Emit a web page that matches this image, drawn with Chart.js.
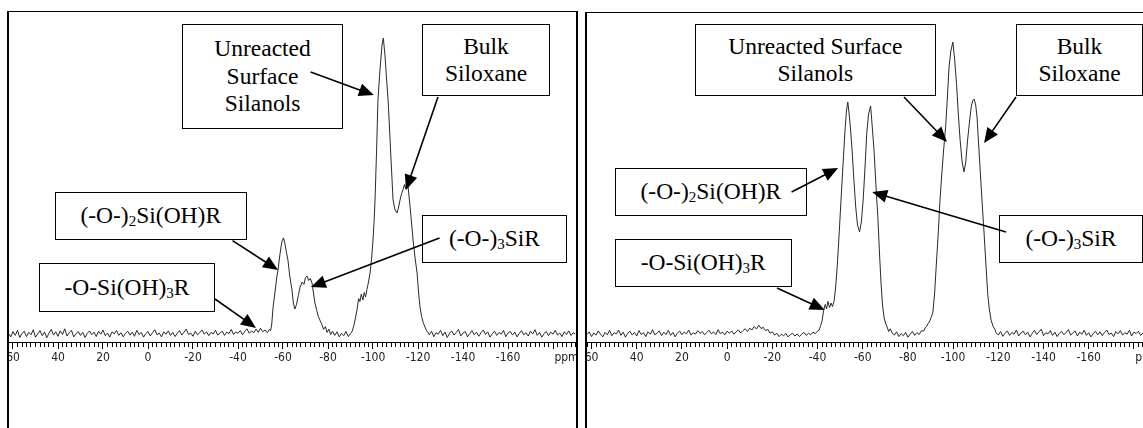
<!DOCTYPE html>
<html><head><meta charset="utf-8">
<script src="https://cdn.jsdelivr.net/npm/chart.js@4.4.1/dist/chart.umd.min.js"></script>
<style>
html,body{margin:0;padding:0;background:#fff;width:1143px;height:428px;overflow:hidden;position:relative}
canvas{position:absolute;top:0}
.frame{position:absolute;box-sizing:border-box;border:0 solid #000;pointer-events:none;z-index:2}
.box{position:absolute;box-sizing:border-box;border:1.5px solid #000;background:#fff;font-family:"Liberation Serif","Tinos","DejaVu Serif","Noto Serif","Times New Roman",Times,serif;font-size:23.5px;line-height:27.5px;color:#000;display:flex;align-items:center;justify-content:center;text-align:center;z-index:3;white-space:nowrap}
.box span{display:block}
.box sub{font-size:0.64em;vertical-align:-0.22em;line-height:0}
#arrows{position:absolute;left:0;top:0;z-index:4}
</style></head><body>
<canvas id="cL" width="590" height="428" style="left:0"></canvas>
<canvas id="cR" width="600" height="428" style="left:575px"></canvas>
<div class="frame" style="left:7px;top:11px;width:571px;height:440px;border-left-width:2px;border-right-width:2px;border-top-width:1px"></div>
<div class="frame" style="left:585px;top:12px;width:600px;height:440px;border-left-width:2px;border-top-width:1px"></div>

<div class="box" style="left:182px;top:24px;width:161px;height:105px"><span>Unreacted<br>Surface<br>Silanols</span></div>
<div class="box" style="left:422px;top:24px;width:128px;height:72px"><span>Bulk<br>Siloxane</span></div>
<div class="box" style="left:54.5px;top:192px;width:192.5px;height:48px"><span>(-O-)<sub>2</sub>Si(OH)R</span></div>
<div class="box" style="left:422px;top:215px;width:145px;height:48px"><span>(-O-)<sub>3</sub>SiR</span></div>
<div class="box" style="left:39px;top:263px;width:176px;height:49px"><span>-O-Si(OH)<sub>3</sub>R</span></div>

<div class="box" style="left:694.5px;top:24px;width:241.5px;height:72px"><span>Unreacted Surface<br>Silanols</span></div>
<div class="box" style="left:1016px;top:24px;width:127px;height:72px"><span>Bulk<br>Siloxane</span></div>
<div class="box" style="left:614.7px;top:168px;width:192.3px;height:48px"><span>(-O-)<sub>2</sub>Si(OH)R</span></div>
<div class="box" style="left:999px;top:215px;width:144px;height:48px"><span>(-O-)<sub>3</sub>SiR</span></div>
<div class="box" style="left:614.7px;top:239px;width:177px;height:48px"><span>-O-Si(OH)<sub>3</sub>R</span></div>

<svg id="arrows" width="1143" height="428"></svg>

<script>
// ---- Left spectrum: chemical shift (ppm) and intensity (a.u.) ----
const leftShift = [
62,61,60,59,58,57,56,55,54,53,
52,51,50,49,48,47,46,45,44,43,
42,41,40,39,38,37,36,35,34,33,
32,31,30,29,28,27,26,25,24,23,
22,21,20,19,18,17,16,15,14,13,
12,11,10,9,8,7,6,5,4,3,
2,1,0,-1,-2,-3,-4,-5,-6,-7,
-8,-9,-10,-11,-12,-13,-14,-15,-16,-17,
-18,-19,-20,-21,-22,-23,-24,-25,-26,-27,
-28,-29,-30,-31,-32,-33,-34,-35,-36,-37,
-38,-39,-40,-41,-42,-43,-44,-45,-46,-47,
-48,-49,-50,-51,-52,-53,-54,
-54.5,-55.0,-55.6,-56.5,-57.3,-57.8,-58.6,-59.5,-60.2,-60.8,
-61.5,-62.2,-63.0,-64.0,-64.6,-65.3,-66.0,-66.8,-67.6,-68.5,
-69.3,-70.0,-70.7,-71.4,-72.1,-72.9,-73.6,-74.2,-75.0,-75.7,
-76.4,-77.2,-78.0,-78.8,-79.6,-80.4,-81.2,-82,-83,-84,
-85,-86,-87,-88,-89,-90,-90.7,-91.5,-92.2,-92.9,
-93.6,-94.2,-94.8,-95.5,-96.1,-96.7,-97.3,-98.0,-98.7,-99.4,
-100.0,-100.5,-100.9,-101.6,-102.2,-103.1,-104.0,-104.6,-105.3,-106.0,
-106.7,-107.3,-107.8,-108.4,-108.9,-109.8,-110.7,-111.4,-112.0,-112.7,
-113.3,-114.0,-114.5,-115.0,-115.6,-116.4,-117.1,-117.8,-118.7,-119.6,
-120.3,-120.9,-121.6,-122.3,-123.1,-123.8,-124.4,
-125,-126,-127,-128,-129,-130,-131,-132,-133,-134,
-135,-136,-137,-138,-139,-140,-141,-142,-143,-144,
-145,-146,-147,-148,-149,-150,-151,-152,-153,-154,
-155,-156,-157,-158,-159,-160,-161,-162,-163,-164,
-165,-166,-167,-168,-169,-170,-171,-172,-173,-174,
-175,-176,-177,-178,-179,-180,-181,-182,-183,-184,
-185,-186,-187,-188,-189,-190];
const leftIntensity = [
0.8,-0.3,1.5,0.2,1.9,-0.5,0.9,1.6,-0.2,1.2,
0.4,2.1,-0.4,0.7,1.8,0.1,1.3,-0.6,1.0,2.2,
0.3,1.4,-0.1,1.7,0.5,2.4,0.0,1.1,1.9,-0.3,
0.8,1.5,0.2,1.2,-0.5,0.9,1.7,0.4,1.3,-0.2,
1.6,0.6,2.0,0.1,1.0,-0.4,1.4,0.7,1.8,0.2,
1.1,-0.3,0.9,1.6,0.3,1.3,-0.1,1.9,0.5,1.2,
-0.4,0.8,1.5,0.0,1.1,2.1,0.4,1.0,-0.3,1.4,
0.6,1.7,0.2,1.2,-0.2,0.9,1.8,0.3,1.3,2.3,
0.5,1.0,-0.1,1.6,0.4,1.1,2.0,0.6,1.4,0.1,
1.2,0.7,1.9,0.3,1.0,1.6,0.2,1.3,0.8,2.2,
0.5,1.4,0.9,1.8,0.4,1.5,2.4,0.9,1.7,1.1,
2.3,1.2,2.6,1.4,2.0,1.1,2.2,
1.8,4.0,9.7,15,20,22,27,31.5,32.7,31,
28,25.3,20,15.3,11,9,10.5,13.5,16.3,18,
17.2,19.5,20,18.5,19.2,17.7,14,11,8.5,6.5,
5.3,4.0,2.2,3.1,1.2,2.3,0.5,1.6,0.2,1.4,
-0.3,0.9,0.1,1.5,-0.2,0.8,1.5,3.5,6,8.7,
12.5,11.5,14,12,14.5,13,15.5,18,21,26,
32,38.5,45.3,62,78.7,88.7,97,99.3,93.7,86,
78.7,70,62,53,45.3,42,41,43,45.3,47.5,
48.7,50.5,49.0,51.3,49.7,43.7,38,32,26,21,
14,9.7,6.5,4.5,3,1.8,1.3,
0.4,1.6,-0.2,1.1,0.6,1.9,0.1,1.3,-0.5,0.9,
1.7,0.3,1.2,2.2,0.0,1.0,1.5,-0.3,0.8,1.8,
0.4,1.3,-0.1,1.1,2.0,0.5,1.4,-0.4,0.7,1.6,
0.2,1.2,0.6,1.9,-0.2,1.0,1.5,0.3,1.3,-0.3,
0.9,1.8,0.4,1.1,0.0,1.6,0.7,2.1,0.2,1.2,
-0.4,0.8,1.5,0.1,1.3,0.6,1.9,0.3,1.0,-0.2,
1.4,0.5,1.7,0.2,1.1,0.6];

// ---- Right spectrum ----
const rightShift = [
62,61,60,59,58,57,56,55,54,53,
52,51,50,49,48,47,46,45,44,43,
42,41,40,39,38,37,36,35,34,33,
32,31,30,29,28,27,26,25,24,23,
22,21,20,19,18,17,16,15,14,13,
12,11,10,9,8,7,6,5,4,3,
2,1,0,-1,-2,-3,-4,-5,-6,-7,
-8,-9,-10,-11,-12,-13,-14,-15,-16,-17,
-18,-19,-20,-21,-22,-23,-24,-25,-26,-27,
-28,-29,-30,-31,-32,-33,-34,-35,-36,-37,
-38,-39,-40,
-40.7,-41.4,-42.0,-42.7,-43.4,-44.0,-44.6,-45.3,-46.0,-46.6,
-47.3,-48.0,-48.7,-49.5,-50.4,-51.2,-52.1,-52.8,-53.4,-54.0,
-54.6,-55.3,-56.1,-56.9,-57.7,-58.6,-59.4,-60.2,-61.0,-61.8,
-62.6,-63.5,-64.2,-65.0,-65.8,-66.7,-67.4,-68.1,-68.8,-69.5,
-70.2,-70.8,-71.5,-72.2,-73,-74,-75,-76,-77,-78,
-79,-80,-81,-82,-83,-84,-85,-86,-87,-87.6,
-88.3,-89.0,-89.7,-90.4,-91.0,-91.8,-92.5,-93.4,-94.2,-95.0,
-95.8,-96.7,-97.5,-98.2,-99.0,-99.9,-100.7,-101.5,-102.3,-103.1,
-104.0,-104.8,-105.6,-106.4,-107.2,-108.0,-108.7,-109.3,-110.0,-110.6,
-111.2,-111.9,-112.8,-113.7,-114.5,-115.3,-116.0,-116.8,-117.7,-118.6,
-119,-120,-121,-122,-123,-124,-125,-126,-127,-128,
-129,-130,-131,-132,-133,-134,-135,-136,-137,-138,
-139,-140,-141,-142,-143,-144,-145,-146,-147,-148,
-149,-150,-151,-152,-153,-154,-155,-156,-157,-158,
-159,-160,-161,-162,-163,-164,-165,-166,-167,-168,
-169,-170,-171,-172,-173,-174,-175,-176,-177,-178,
-179,-180,-181,-182,-183,-184,-185,-186,-187,-188,
-189,-190];
const rightIntensity = [
0.5,1.4,-0.2,1.0,0.3,1.7,0.6,-0.3,1.2,0.4,
1.9,0.1,1.1,0.7,2.0,0.2,1.3,-0.4,0.9,1.6,
0.3,1.2,0.0,1.8,0.5,1.1,-0.2,1.4,0.6,2.1,
0.4,1.0,1.7,0.1,1.3,0.5,1.9,0.2,1.2,-0.3,
1.0,1.6,0.4,1.3,0.7,2.0,0.3,1.1,0.6,1.8,
0.9,1.5,0.4,1.2,1.9,0.7,1.4,0.5,2.1,0.8,
1.3,0.4,1.6,0.9,1.7,0.6,1.4,2.0,1.0,1.8,
2.4,1.5,2.6,2.0,3.2,2.3,3.6,2.5,2.9,1.8,
2.2,0.9,1.4,0.3,0.9,-0.2,0.6,0.1,0.8,-0.3,
0.5,0.9,0.0,0.7,-0.2,0.6,1.2,0.2,0.9,0.4,
1.3,0.8,1.6,
2,3.5,5,8.5,10.5,9,11.5,9.5,11,9.8,
11.5,16,23,33,45.3,56,67.7,75,78,74,
69,62,52,43,37,34.7,38,45.3,56,67.7,
74,76.7,70,62,51,39.7,28,17.7,10,6,
4,3,1.5,2.4,1.0,0.3,1.4,-0.2,0.8,0.1,
1.2,-0.4,0.6,1.5,0.2,1.1,0.5,1.8,1.6,2.7,
3.2,4.2,5.0,6.5,7.7,14,23,34,45.3,54,
62,69.7,80,89.7,95,98,92,84.3,74,65.3,
58,54.7,58,65.3,71,76.3,78.5,79,77,73,
65,56.3,45,34.3,24,14.3,9,5.3,3.2,2,
1.1,0.3,1.5,-0.1,0.9,1.7,0.2,1.2,0.6,2.0,
0.0,1.0,1.6,0.4,1.3,-0.3,0.8,1.9,0.5,1.4,
2.3,0.1,1.1,0.7,1.8,0.2,1.3,-0.2,0.9,1.5,
0.4,1.2,2.1,0.3,1.0,1.7,0.0,1.3,0.6,1.9,
0.2,1.1,-0.3,0.8,1.6,0.4,1.4,0.1,1.2,2.0,
0.5,1.0,-0.2,1.5,0.7,1.8,0.3,1.1,0.6,1.9,
0.0,1.3,0.8,1.6,0.2,1.0,1.7,0.4,1.2,-0.1,
0.9,1.4];

const axisMajorStep = 20;   // labelled ticks every 20 ppm
const axisMinorStep = 2;    // minor ticks every 2 ppm
const axisUnitLabel = 'ppm';
const axisUnitAt = -186;

// ---- annotation arrows: start in page px, tip in data units ----
const arrows = [
 {p:'L', sx:310.6, sy:72,  tx:-100.4, ty:80.3},
 {p:'L', sx:438,   sy:97,  tx:-114.7, ty:48.7},
 {p:'L', sx:232.5, sy:240.7, tx:-57.8, ty:22},
 {p:'L', sx:439.5, sy:238, tx:-72.4, ty:16.3},
 {p:'L', sx:215,   sy:299, tx:-48,    ty:2.7},
 {p:'R', sx:904,   sy:97,  tx:-97.3,  ty:64.7},
 {p:'R', sx:1016,  sy:97,  tx:-113.7, ty:64.3},
 {p:'R', sx:791.6, sy:192, tx:-49.1,  ty:56},
 {p:'R', sx:1006,  sy:232, tx:-64.2,  ty:48},
 {p:'R', sx:777,   sy:288, tx:-43.2,  ty:8.7}
];

const tickFont = {family:"'DejaVu Sans Condensed','Liberation Sans Narrow','Roboto Condensed','Liberation Sans',sans-serif", size:12};

function makeChart(id, shift, inten, pad){
  const pts = shift.map((s,i)=>({x:s, y:inten[i]}));
  return new Chart(document.getElementById(id), {
    type:'line',
    data:{datasets:[{data:pts, borderColor:'#2a2a2a', borderWidth:1, pointRadius:0, fill:false, tension:0}]},
    options:{
      responsive:false, animation:false, events:[],
      layout:{padding:pad},
      plugins:{legend:{display:false}, tooltip:{enabled:false}},
      scales:{
        x:{type:'linear', min:-190, max:62, reverse:true, position:'bottom',
           afterFit:(s)=>{s.height=40;},
           border:{display:true, color:'#000', width:1},
           grid:{drawOnChartArea:false, drawTicks:true, tickLength:7, tickColor:'#000', tickWidth:1,
                 tickBorderDash:(ctx)=> (ctx.tick && Math.round(ctx.tick.value) % axisMajorStep === 0) ? [] : [4,60]},
           ticks:{stepSize:axisMinorStep, autoSkip:false, maxTicksLimit:1000, maxRotation:0, minRotation:0, padding:2,
                  color:'#222', font:tickFont,
                  callback:(v)=>{ const r=Math.round(v);
                    if (r===axisUnitAt) return axisUnitLabel;
                    if (r<=-180) return '';
                    return (r % axisMajorStep === 0) ? String(r) : ''; }}
        },
        y:{type:'linear', display:false, min:-2, max:108}
      }
    }
  });
}

const chartL = makeChart('cL', leftShift, leftIntensity, {left:8.5, right:14.5, top:12, bottom:46});
const chartR = makeChart('cR', rightShift, rightIntensity, {left:12, right:18.5, top:12, bottom:46});

(function drawArrows(){
  const svg = document.getElementById('arrows');
  let s = '';
  const L = 15, W = 6.5;
  for (const a of arrows){
    const ch = a.p==='L' ? chartL : chartR;
    const off = a.p==='L' ? 0 : 575;
    const tx = off + ch.scales.x.getPixelForValue(a.tx);
    const ty = ch.scales.y.getPixelForValue(a.ty);
    const dx = tx - a.sx, dy = ty - a.sy, len = Math.hypot(dx,dy);
    const ux = dx/len, uy = dy/len, nx = -uy, ny = ux;
    const bx = tx - ux*L, by = ty - uy*L;
    s += `<line x1="${a.sx}" y1="${a.sy}" x2="${bx+ux*2}" y2="${by+uy*2}" stroke="#000" stroke-width="1.6"/>`;
    s += `<polygon points="${tx},${ty} ${bx+nx*W},${by+ny*W} ${bx-nx*W},${by-ny*W}" fill="#000"/>`;
  }
  svg.innerHTML = s;
})();
</script>
</body></html>
